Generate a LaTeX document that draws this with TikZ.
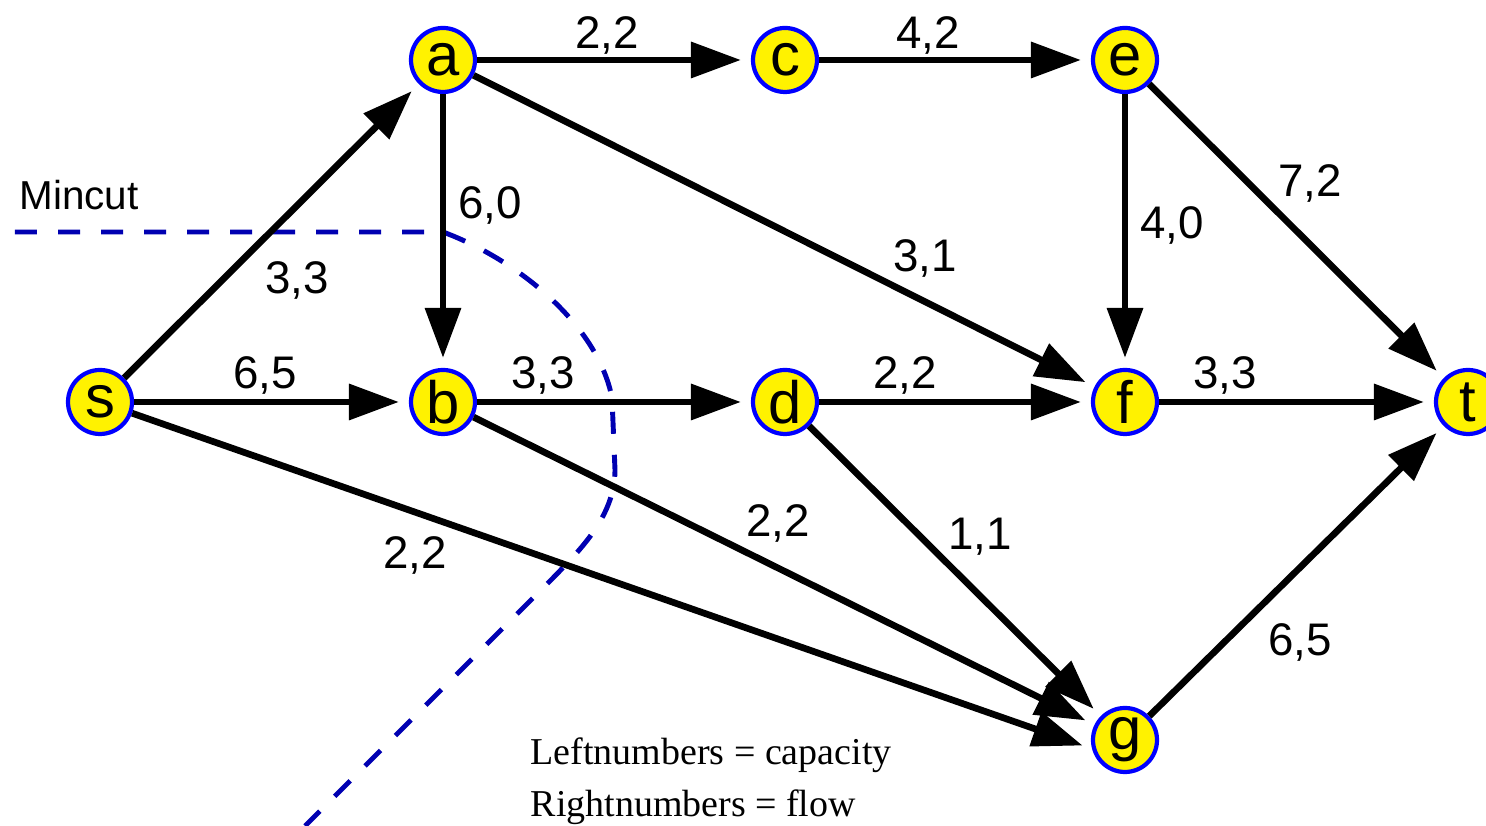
\documentclass[tikz,border=0pt]{standalone}
\usepackage{fontspec}
\setmainfont{Liberation Sans}
\newfontfamily\legendfont{Liberation Serif}
\usetikzlibrary{arrows.meta}

\begin{document}
\begin{tikzpicture}[
		vertex/.style={circle, draw=blue, fill=yellow, line width=1.2pt, minimum size=0.64cm, inner sep=0pt, font=\fontsize{17}{17}\selectfont},
		flow/.style={-{Triangle[length=0.5cm,width=0.35cm]}, line width=1.9pt, shorten >=0.1cm},
		lbl/.style={inner sep=0pt, font=\fontsize{13}{13}\selectfont},
		cutline/.style={blue!70!black, line width=1.4pt, dash pattern=on 0.22cm off 0.21cm}
	]
		\clip (0,0) rectangle (14.86,8.26);
		
		% the min cut, drawn below the edges
		\draw[cutline] (0.15,5.94) -- (4.43,5.94)
			.. controls (5.18,5.66) and (5.98,5.01) .. (6.12,4.28)
			-- (6.15,3.56) .. controls (6.15,3.10) and (5.80,2.76) .. (5.53,2.48)
			-- (3.05,0.0);
		\node[font=\fontsize{11.5}{11.5}\selectfont] (mincut) at (0.79,6.31) {Mincut};
		
		% vertices
		\node[vertex] (s) at (1.00,4.24) {s};
		\node[vertex] (a) at (4.43,7.66) {a};
		\node[vertex] (b) at (4.43,4.24) {b};
		\node[vertex] (c) at (7.85,7.66) {c};
		\node[vertex] (d) at (7.85,4.24) {d};
		\node[vertex] (e) at (11.25,7.66) {e};
		\node[vertex] (f) at (11.25,4.24) {f};
		\node[vertex] (g) at (11.25,0.86) {g};
		\node[vertex] (t) at (14.68,4.24) {t};
		
		% edges
		\draw[flow] (s) -- (a);
		\draw[flow] (s) -- (b);
		\draw[flow] (s) -- (g.195);
		\draw[flow] (a) -- (c);
		\draw[flow] (a) -- (b);
		\draw[flow] (a) -- (f);
		\draw[flow] (c) -- (e);
		\draw[flow] (b) -- (d);
		\draw[flow] (b) -- (g);
		\draw[flow] (d) -- (f);
		\draw[flow] (d) -- (g);
		\draw[flow] (e) -- (f);
		\draw[flow] (e) -- (t);
		\draw[flow] (f) -- (t);
		\draw[flow] (g) -- (t);
		
		% capacity,flow labels
		\node[lbl] (l-sa) at (2.97,5.46) {3,3};
		\node[lbl] (l-sb) at (2.65,4.51) {6,5};
		\node[lbl] (l-sg) at (4.15,2.71) {2,2};
		\node[lbl] (l-ac) at (6.07,7.91) {2,2};
		\node[lbl] (l-ab) at (4.90,6.21) {6,0};
		\node[lbl] (l-af) at (9.25,5.68) {3,1};
		\node[lbl] (l-ce) at (9.28,7.91) {4,2};
		\node[lbl] (l-bd) at (5.43,4.51) {3,3};
		\node[lbl] (l-bg) at (7.78,3.03) {2,2};
		\node[lbl] (l-df) at (9.05,4.51) {2,2};
		\node[lbl] (l-dg) at (9.80,2.89) {1,1};
		\node[lbl] (l-ef) at (11.72,6.01) {4,0};
		\node[lbl] (l-et) at (13.10,6.43) {7,2};
		\node[lbl] (l-ft) at (12.25,4.51) {3,3};
		\node[lbl] (l-gt) at (13.00,1.84) {6,5};
		
		% legend
		\node[anchor=base west, inner sep=0pt, font=\legendfont\fontsize{10.8}{10.8}\selectfont] (legcap) at (5.30,0.61) {Leftnumbers = capacity};
		\node[anchor=base west, inner sep=0pt, font=\legendfont\fontsize{10.8}{10.8}\selectfont] (legflow) at (5.30,0.09) {Rightnumbers = flow};
		
	\end{tikzpicture}
\end{document}
